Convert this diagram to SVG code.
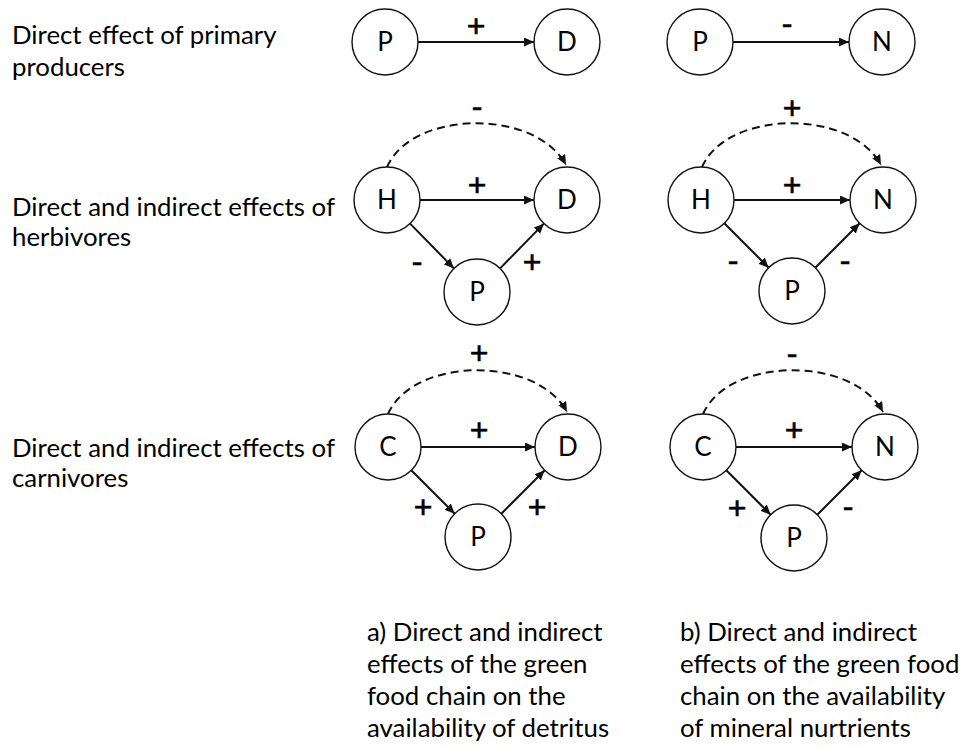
<svg xmlns="http://www.w3.org/2000/svg" width="965" height="748" viewBox="0 0 965 748">
<style>
text{font-family:Lato,"Open Sans","Liberation Sans",sans-serif;fill:#000;}
.lbl{font-size:25.8px;}
.nd circle{fill:#fff;stroke:#111;stroke-width:1.4;}
.nd text{font-size:26px;text-anchor:middle;}
.sg{font-family:"Liberation Sans",Arial,sans-serif;font-size:32px;text-anchor:middle;stroke:#000;stroke-width:0.6;}
.e{fill:none;stroke:#111;stroke-width:2;marker-end:url(#ah);}
.d{fill:none;stroke:#111;stroke-width:2;stroke-dasharray:8 5;marker-end:url(#ah);}
</style>
<defs>
<marker id="ah" markerUnits="userSpaceOnUse" markerWidth="10" markerHeight="9" refX="10" refY="4.5" orient="auto">
<path d="M0,0 L10,4.5 L0,9 z" fill="#111"/>
</marker>
</defs>
<rect width="965" height="748" fill="#fff"/>
<g id="row-labels">
<text class="lbl" x="12" y="44">Direct effect of primary</text>
<text class="lbl" x="12" y="76">producers</text>
<text class="lbl" x="12" y="216">Direct and indirect effects of</text>
<text class="lbl" x="12" y="246">herbivores</text>
<text class="lbl" x="12" y="457">Direct and indirect effects of</text>
<text class="lbl" x="12" y="487">carnivores</text>
</g>
<g id="captions">
<text class="lbl" x="367" y="641">a) Direct and indirect</text>
<text class="lbl" x="367" y="673">effects of the green</text>
<text class="lbl" x="367" y="705">food chain on the</text>
<text class="lbl" x="367" y="737">availability of detritus</text>
<text class="lbl" x="680" y="641">b) Direct and indirect</text>
<text class="lbl" x="680" y="673">effects of the green food</text>
<text class="lbl" x="680" y="705">chain on the availability</text>
<text class="lbl" x="680" y="737">of mineral nurtrients</text>
</g>
<g id="connectors">
<path class="e" d="M418,42 H534"/>
<path class="e" d="M733,42 H849"/>
<path class="e" d="M420,200 H534"/>
<path class="e" d="M410.1,223.6 L453.9,268.4"/>
<path class="e" d="M500.1,268.4 L543.9,223.6"/>
<path class="d" d="M387,167 C412,110 535,108 566,165"/>
<path class="e" d="M734,200 H850"/>
<path class="e" d="M724.3,223.3 L768.7,267.7"/>
<path class="e" d="M815.3,267.7 L859.7,223.3"/>
<path class="d" d="M702,167 C727,110 850,108 881,165"/>
<path class="e" d="M421,447 H535"/>
<path class="e" d="M411.3,470.3 L454.7,513.7"/>
<path class="e" d="M501.3,513.7 L544.7,470.3"/>
<path class="d" d="M388,414 C413,357 536,355 567,412"/>
<path class="e" d="M736,447 H852"/>
<path class="e" d="M726.3,470.3 L770.7,514.7"/>
<path class="e" d="M817.3,514.7 L861.7,470.3"/>
<path class="d" d="M703,414 C728,357 852,355 883,412"/>
</g>
<g id="signs">
<text class="sg" x="476" y="37">+</text>
<text class="sg" x="787" y="33.7">-</text>
<text class="sg" x="477" y="116.7">-</text>
<text class="sg" x="477" y="196">+</text>
<text class="sg" x="417" y="271.7">-</text>
<text class="sg" x="532" y="273">+</text>
<text class="sg" x="792" y="119">+</text>
<text class="sg" x="792" y="196">+</text>
<text class="sg" x="733" y="270.7">-</text>
<text class="sg" x="845" y="270.7">-</text>
<text class="sg" x="479" y="364">+</text>
<text class="sg" x="479" y="441">+</text>
<text class="sg" x="423" y="518">+</text>
<text class="sg" x="537" y="518">+</text>
<text class="sg" x="792" y="363.7">-</text>
<text class="sg" x="794" y="441">+</text>
<text class="sg" x="737" y="519">+</text>
<text class="sg" x="848" y="516.7">-</text>
</g>
<g id="a-row1-P" class="nd"><circle cx="385" cy="42" r="33"/><text x="385" y="51">P</text></g>
<g id="a-row1-D" class="nd"><circle cx="567" cy="42" r="33"/><text x="567" y="51">D</text></g>
<g id="b-row1-P" class="nd"><circle cx="700" cy="42" r="33"/><text x="700" y="51">P</text></g>
<g id="b-row1-N" class="nd"><circle cx="882" cy="42" r="33"/><text x="882" y="51">N</text></g>
<g id="a-row2-H" class="nd"><circle cx="387" cy="200" r="33"/><text x="387" y="209">H</text></g>
<g id="a-row2-D" class="nd"><circle cx="567" cy="200" r="33"/><text x="567" y="209">D</text></g>
<g id="a-row2-P" class="nd"><circle cx="477" cy="292" r="33"/><text x="477" y="301">P</text></g>
<g id="b-row2-H" class="nd"><circle cx="701" cy="200" r="33"/><text x="701" y="209">H</text></g>
<g id="b-row2-N" class="nd"><circle cx="883" cy="200" r="33"/><text x="883" y="209">N</text></g>
<g id="b-row2-P" class="nd"><circle cx="792" cy="291" r="33"/><text x="792" y="300">P</text></g>
<g id="a-row3-C" class="nd"><circle cx="388" cy="447" r="33"/><text x="388" y="456">C</text></g>
<g id="a-row3-D" class="nd"><circle cx="568" cy="447" r="33"/><text x="568" y="456">D</text></g>
<g id="a-row3-P" class="nd"><circle cx="478" cy="537" r="33"/><text x="478" y="546">P</text></g>
<g id="b-row3-C" class="nd"><circle cx="703" cy="447" r="33"/><text x="703" y="456">C</text></g>
<g id="b-row3-N" class="nd"><circle cx="885" cy="447" r="33"/><text x="885" y="456">N</text></g>
<g id="b-row3-P" class="nd"><circle cx="794" cy="538" r="33"/><text x="794" y="547">P</text></g>
</svg>
